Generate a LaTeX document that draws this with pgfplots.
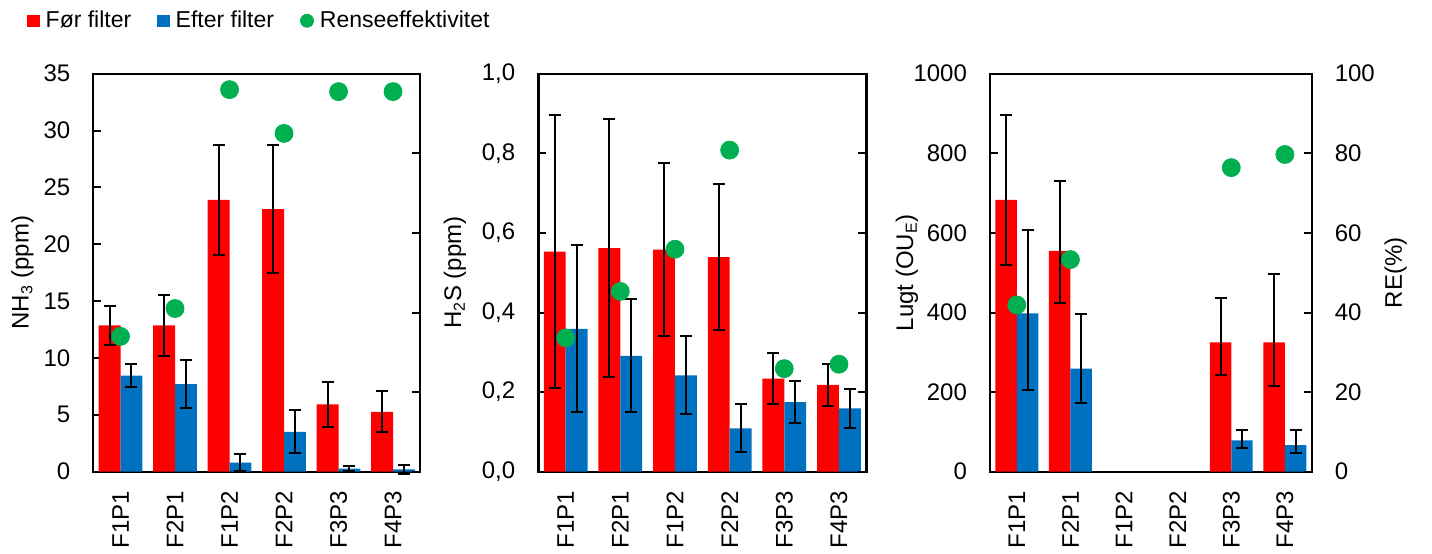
\documentclass[border=0pt]{standalone}
\usepackage{fontspec}
\setmainfont{Liberation Sans}
\usepackage{pgfplots}
\pgfplotsset{compat=1.18}
\definecolor{cred}{HTML}{FF0000}
\definecolor{cblue}{HTML}{0070C0}
\definecolor{cgreen}{HTML}{00B050}
\pgfplotsset{
  base/.style={
    width=#1, height=199pt, scale only axis,
    xmin=-0.5, xmax=5.5, ymin=0,
    axis line style={line width=1.2pt},
    every tick/.style={black, line width=1pt},
    major tick length=4pt,
    tick label style={font=\fontsize{12}{14}\selectfont},
    /pgf/number format/assume math mode=true,
    /pgf/number format/1000 sep={},
    clip=false,
  },
  prim/.style={base=#1,
    xtick={0,...,5}, xticklabels={F1P1,F2P1,F1P2,F2P2,F3P3,F4P3},
    xticklabel style={yshift=-2pt, rotate=90, anchor=east},
    major x tick style={draw=none},
    ytick pos=left,
    yticklabel style={xshift=-8pt},
    ybar, bar width=0.4,
  },
  sec/.style={base=#1, axis y line*=right, axis x line=none, ymax=100,
    ytick={0,20,...,100}, yticklabel style={xshift=8pt}},
  ylab/.style={every axis y label/.style={at={(axis description cs:#1,0.5)}, rotate=90, anchor=center, font=\fontsize{12}{14}\selectfont}},
  redbar/.style={fill=cred, draw=none, bar shift=-0.2, forget plot,
    error bars/.cd, y dir=both, y explicit,
    error bar style={line width=1pt, black},
    error mark options={rotate=90, mark size=3pt, line width=1pt, black}},
  bluebar/.style={fill=cblue, draw=none, bar shift=0.2, forget plot,
    error bars/.cd, y dir=both, y explicit,
    error bar style={line width=1pt, black},
    error mark options={rotate=90, mark size=3pt, line width=1pt, black}},
  dots/.style={only marks, mark=*, mark size=4.5pt, color=cgreen, mark options={fill=cgreen, draw=none}},
}
\begin{document}
\begin{tikzpicture}
\path[use as bounding box] (-46.65pt,-40.65pt) rectangle (669.35pt,235.85pt);
% ---------------- Panel 1: NH3
\begin{axis}[prim=163.5pt, at={(0pt,0pt)}, anchor=south west,
  ymax=35, ytick={0,5,...,35},
  ylabel={NH\textsubscript{3} (ppm)}, ylab=-0.2165,
  legend style={at={(axis description cs:-0.2214,1.133)}, anchor=west, draw=none, fill=none,
    font=\fontsize{11.5}{13}\selectfont, legend columns=3,
    nodes={inner xsep=3pt, inner ysep=1pt},
    /tikz/every even column/.append style={column sep=10pt}},
]
\addplot[redbar] coordinates {(0,12.86) +- (0,1.7) (1,12.86) +- (0,2.66) (2,23.9) +- (0,4.8) (3,23.1) +- (0,5.6) (4,5.92) +- (0,1.95) (5,5.27) +- (0,1.8)};
\addplot[bluebar] coordinates {(0,8.44) +- (0,1.03) (1,7.70) +- (0,2.1) (2,0.79) +- (0,0.77) (3,3.51) +- (0,1.9) (4,0.26) +- (0,0.2) (5,0.2) +- (0,0.36)};
\addlegendimage{legend image code/.code={\fill[cred] (0pt,-2.9pt) rectangle (5.8pt,2.9pt);}}
\addlegendentry{Før filter}
\addlegendimage{legend image code/.code={\fill[cblue] (0pt,-2.9pt) rectangle (5.8pt,2.9pt);}}
\addlegendentry{Efter filter}
\addlegendimage{legend image code/.code={\fill[cgreen] (3.25pt,0pt) circle (3.25pt);}}
\addlegendentry{Renseeffektivitet}
\end{axis}
\begin{axis}[sec=163.5pt, at={(0pt,0pt)}, anchor=south west, yticklabels={}]
\addplot[dots] coordinates {(0,34) (1,41) (2,96) (3,85) (4,95.5) (5,95.5)};
\end{axis}
% ---------------- Panel 2: H2S
\begin{axis}[prim=164pt, at={(222.5pt,0pt)}, anchor=south west,
  ymax=1, ytick={0,0.2,...,1.0},
  yticklabel style={/pgf/number format/.cd, use comma, fixed, fixed zerofill, precision=1},
  ylabel={H\textsubscript{2}S (ppm)}, ylab=-0.254,
]
\addplot[redbar] coordinates {(0,0.553) +- (0,0.343) (1,0.562) +- (0,0.324) (2,0.558) +- (0,0.217) (3,0.539) +- (0,0.183) (4,0.234) +- (0,0.065) (5,0.218) +- (0,0.053)};
\addplot[bluebar] coordinates {(0,0.359) +- (0,0.21) (1,0.291) +- (0,0.142) (2,0.242) +- (0,0.098) (3,0.109) +- (0,0.06) (4,0.175) +- (0,0.053) (5,0.159) +- (0,0.049)};
\end{axis}
\begin{axis}[sec=164pt, at={(222.5pt,0pt)}, anchor=south west, yticklabels={}]
\addplot[dots] coordinates {(0,33.6) (1,45.3) (2,55.9) (3,80.8) (4,25.9) (5,27)};
\end{axis}
% ---------------- Panel 3: Lugt
\begin{axis}[prim=160.85pt, at={(448.35pt,0pt)}, anchor=south west,
  ymax=1000, ytick={0,200,...,1000},
  ylabel={Lugt (OU\textsubscript{E})}, ylab=-0.258,
]
\addplot[redbar] coordinates {(0,683) += (0,214) -= (0,163) (1,555) += (0,176) -= (0,131) (4,325) += (0,112) -= (0,81) (5,325) += (0,172) -= (0,110)};
\addplot[bluebar] coordinates {(0,398) += (0,209) -= (0,192) (1,259) += (0,138) -= (0,87) (4,79) += (0,27) -= (0,19) (5,67) += (0,37) -= (0,21)};
\end{axis}
\begin{axis}[sec=160.85pt, at={(448.35pt,0pt)}, anchor=south west,
  ylabel={RE(\%)}, ylab=1.261,
]
\addplot[dots] coordinates {(0,41.9) (1,53.3) (4,76.4) (5,79.7)};
\end{axis}
\end{tikzpicture}
\end{document}
